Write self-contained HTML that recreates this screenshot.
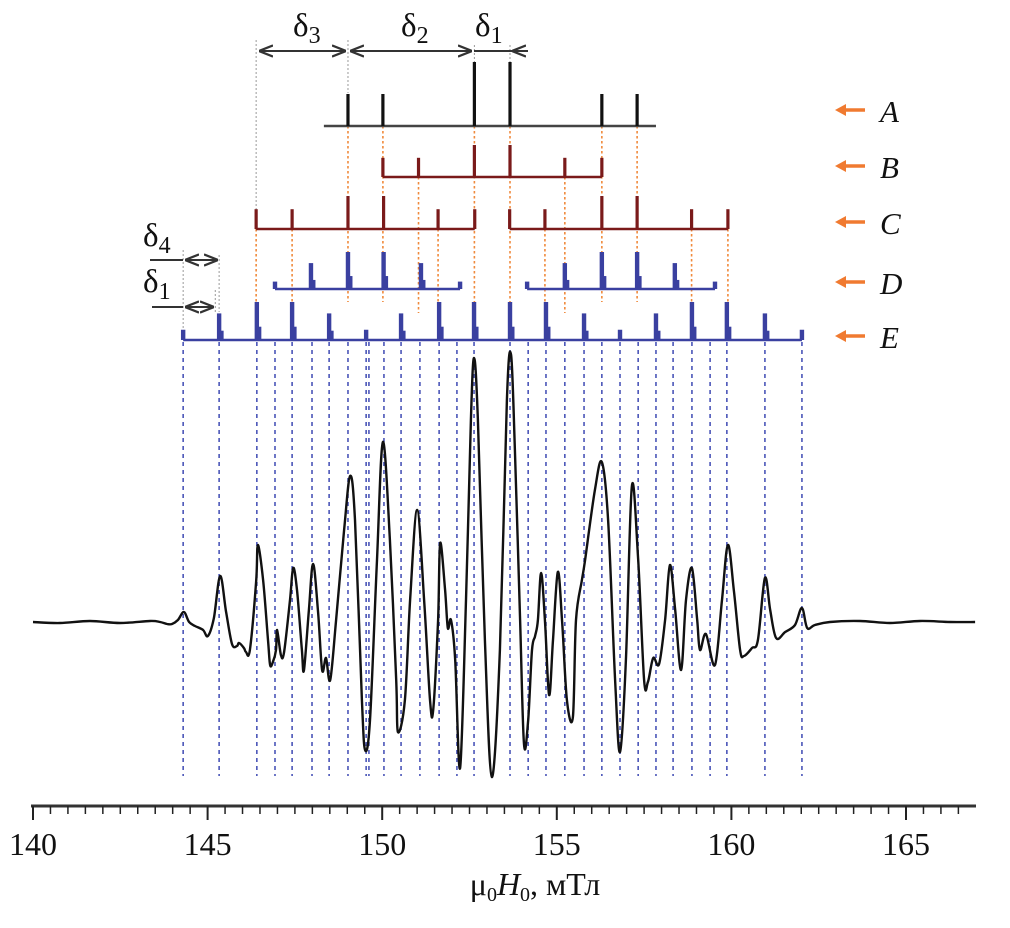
<!DOCTYPE html>
<html><head><meta charset="utf-8">
<style>
html,body{margin:0;padding:0;background:#fff;}
svg{display:block;}
text{font-family:"Liberation Serif",serif;fill:#111;}
</style></head>
<body>
<svg id="chart" width="1010" height="928" viewBox="0 0 1010 928" xmlns="http://www.w3.org/2000/svg">
<defs>
<marker id="ah" viewBox="0 0 10 10" refX="10" refY="5" markerWidth="7" markerHeight="7" orient="auto-start-reverse"><path d="M0,1 L10,5 L0,9" fill="none" stroke="#333" stroke-width="1.6"/></marker>
</defs>
<g id="guides"></g>
<g id="sticks"></g>
<path id="spectrum" fill="none" stroke="#111" stroke-width="2.4" stroke-linejoin="round"/>
<g id="axis"></g>
<g id="annot"></g>
</svg>
<script>
// ---- data ----
const fieldMin = 140, fieldMax = 165;
const tickLabels = [140,145,150,155,160,165];
const specField = [
140.00,140.77,141.63,142.49,143.35,143.64,143.84,143.98,144.15,144.32,
144.47,144.64,144.87,145.01,145.18,145.36,145.53,145.70,145.84,145.90,
146.04,146.10,146.21,146.39,146.44,146.59,146.73,146.79,146.87,146.96,
146.99,147.10,147.19,147.36,147.45,147.56,147.70,147.76,147.90,148.02,
148.16,148.28,148.39,148.51,148.68,148.91,149.08,149.22,149.42,149.51,
149.65,149.85,150.02,150.22,150.40,150.45,150.65,150.80,151.00,151.20,
151.37,151.46,151.60,151.66,151.80,151.88,151.97,152.09,152.23,152.40,
152.54,152.63,152.74,152.94,153.14,153.37,153.57,153.69,153.80,153.95,
154.06,154.18,154.29,154.38,154.46,154.55,154.66,154.78,154.89,155.03,
155.15,155.29,155.46,155.55,155.72,155.81,156.09,156.29,156.47,156.67,
156.81,156.98,157.15,157.33,157.50,157.61,157.76,157.93,158.10,158.24,
158.39,158.56,158.70,158.87,159.02,159.10,159.27,159.53,159.73,159.90,
160.07,160.25,160.36,160.59,160.76,160.96,161.11,161.28,161.54,161.82,
162.02,162.17,162.39,162.82,163.68,164.54,165.40,166.26,166.98];
const specIntensity = [
0,-1,1,-1,1,0,-2,-2,2,10,
0,-4,-8,-14,4,46,10,-22,-24,-21,
-26,-30,-28,40,77,42,-18,-43,-40,-28,
-8,-33,-30,22,54,32,-28,-48,12,58,
12,-48,-36,-58,2,92,146,102,-78,-128,
-98,62,180,82,-58,-110,-78,22,112,22,
-78,-88,2,79,32,-6,2,-38,-146,22,
202,264,202,-18,-155,-28,222,267,172,2,
-122,-98,-28,-14,2,49,2,-73,-18,50,
2,-78,-95,2,42,62,132,160,102,-58,
-130,-38,136,62,-58,-60,-36,-42,2,57,
12,-48,22,54,2,-28,-12,-43,22,77,
32,-28,-34,-26,-18,44,12,-16,-10,-3,
14,-6,-3,0,1,-1,1,0,0];
// stick spectra: positions (mT) and relative heights
const rowA = {name:'A', y:126, color:'#111', base:[[148.33,157.84]],
  pos:[149.02,150.02,152.64,153.66,156.29,157.30], h:[1,1,2,2,1,1]};
const rowB = {name:'B', y:177, color:'#7a1a1a', base:[[150.02,156.29]],
  pos:[150.02,151.04,152.64,153.66,155.23,156.29], h:[0.6,0.6,1,1,0.6,0.6]};
const rowC = {name:'C', y:229, color:'#7a1a1a', base:[[146.39,152.65],[153.65,159.90]],
  pos:[146.39,147.42,149.02,150.04,151.60,152.65,153.65,154.66,156.29,157.30,158.86,159.90],
  h:[0.6,0.6,1,1,0.6,0.6,0.6,0.6,1,1,0.6,0.6]};
const rowD = {name:'D', y:289, color:'#3a40a0', base:[[146.93,152.23],[154.15,159.53]],
  pos:[146.93,147.96,149.02,150.04,151.11,152.23,154.15,155.23,156.29,157.30,158.38,159.53],
  h:[0.2,0.7,1,1,0.7,0.2,0.2,0.7,1,1,0.7,0.2]};
const rowE = {name:'E', y:340, color:'#3a40a0', base:[[144.30,162.02]],
  pos:[144.30,145.33,146.41,147.42,148.48,149.54,150.54,151.63,152.63,153.66,154.69,155.78,156.81,157.84,158.87,159.87,160.96,162.02],
  h:[0.27,0.7,1,1,0.7,0.27,0.7,1,1,1,1,0.7,0.27,0.7,1,1,0.7,0.27]};
const blueLines = [144.30,145.33,146.41,146.93,147.42,147.99,148.48,149.02,149.54,149.62,150.05,150.54,151.08,151.63,152.14,152.63,153.66,154.18,154.69,155.23,155.78,156.29,156.81,157.33,157.84,158.33,158.87,159.39,159.87,160.96,162.02];
const orangeLines = [[149.02,126,302],[150.02,126,302],[152.64,126,302],[153.66,126,302],[156.29,126,302],[157.30,126,302],
  [151.04,177,313],[155.23,177,313],[146.39,229,302],[147.42,229,302],[151.60,229,302],[154.66,229,302],[158.86,229,302],[159.90,229,302]];

// ---- scales ----
const X0 = 33, X1 = 906;
function fx(v){ return X0 + (v - fieldMin) * (X1 - X0) / (fieldMax - fieldMin); }
const BASE_Y = 622;
function fy(v){ return BASE_Y - v; }
const NS = 'http://www.w3.org/2000/svg';
function mk(tag, attrs, parent){
  const e = document.createElementNS(NS, tag);
  for (const k in attrs) e.setAttribute(k, attrs[k]);
  parent.appendChild(e); return e;
}
const guides = document.getElementById('guides');
const sticks = document.getElementById('sticks');
const axis = document.getElementById('axis');

blueLines.forEach(v => {
  const l = mk('line', {x1:fx(v), x2:fx(v), y1:342, y2:776, stroke:'#4a55b8', 'stroke-width':1.6, 'stroke-dasharray':'4 4'}, guides);
  
  
});
orangeLines.forEach(o => {
  const l = mk('line', {x1:fx(o[0]), x2:fx(o[0]), y1:o[1], y2:o[2], stroke:'#f08a3c', 'stroke-width':1.6, 'stroke-dasharray':'2.5 2.5'}, guides);
  
  
});
[[146.39,40,229],[149.02,40,93],[152.64,45,62],[153.66,45,62],[144.30,250,330],[145.33,255,312],[145.22,290,312]].forEach(g => {
  const l = mk('line', {x1:fx(g[0]), x2:fx(g[0]), y1:g[1], y2:g[2], stroke:'#999', 'stroke-width':1, 'stroke-dasharray':'2 2'}, guides);
  
  
});

const unitH = {A:32, B:32, C:33, D:37, E:38};
[rowA,rowB,rowC,rowD,rowE].forEach(r => {
  const g = mk('g', {}, sticks);
  
  
  r.base.forEach(b => {
    mk('line', {x1:fx(b[0]), x2:fx(b[1]), y1:r.y, y2:r.y, stroke: r.name==='A' ? '#444' : r.color, 'stroke-width':2.6}, g);
  });
  const blob = (r.name === 'D' || r.name === 'E');
  r.pos.forEach((p,i) => {
    const h = r.h[i] * unitH[r.name];
    const x = fx(p);
    const s = mk('rect', {x: x - (blob ? 2.2 : 1.6), y: r.y - h, width: blob ? 4.4 : 3.2, height: h, fill: r.color}, g);
    
    
    if (blob && h > 12) {
      const sh = mk('rect', {x: x + 1.5, y: r.y - h*0.35, width: 3, height: h*0.35, fill: r.color}, g);
      
      
    }
  });
});

(function(){
  const pts = specField.map((f,i) => [fx(f), fy(specIntensity[i])]);
  let d = 'M' + pts[0][0].toFixed(1) + ',' + pts[0][1].toFixed(1);
  for (let i = 0; i < pts.length - 1; i++) {
    const p0 = pts[Math.max(0,i-1)], p1 = pts[i], p2 = pts[i+1], p3 = pts[Math.min(pts.length-1,i+2)];
    const c1x = p1[0] + (p2[0]-p0[0])/6, c1y = p1[1] + (p2[1]-p0[1])/6;
    const c2x = p2[0] - (p3[0]-p1[0])/6, c2y = p2[1] - (p3[1]-p1[1])/6;
    d += ' C' + c1x.toFixed(1)+','+c1y.toFixed(1)+' '+c2x.toFixed(1)+','+c2y.toFixed(1)+' '+p2[0].toFixed(1)+','+p2[1].toFixed(1);
  }
  document.getElementById('spectrum').setAttribute('d', d);
})();

const AY = 806;
const al = mk('line', {x1:31, x2:976, y1:AY, y2:AY, stroke:'#333', 'stroke-width':3}, axis);


for (let k = 0; k <= 53; k++) {
  const v = fieldMin + k * 0.5;
  const major = (k % 10 === 0);
  const t = mk('line', {x1:fx(v), x2:fx(v), y1:AY, y2:AY + (major ? 14 : 8), stroke:'#222', 'stroke-width': major ? 2 : 1.5}, axis);
  
  
}
tickLabels.forEach(v => {
  const t = mk('text', {x:fx(v), y:855, 'font-size':32, 'text-anchor':'middle'}, axis);
  t.textContent = v;
  
  
});
</script>
<script>
(function(){
  const svg = document.getElementById('annot');
  const NS='http://www.w3.org/2000/svg';
  svg.insertAdjacentHTML('beforeend', `
  <text x="535" y="895" font-size="32" text-anchor="middle">μ<tspan font-size="20" dy="6">0</tspan><tspan dy="-6" font-style="italic">H</tspan><tspan font-size="20" dy="6">0</tspan><tspan dy="-6">, мТл</tspan></text>
  <g stroke="#333" stroke-width="2" fill="none">
    <line x1="259" y1="51" x2="346" y2="51" marker-start="url(#ah)" marker-end="url(#ah)"/>
    <line x1="350" y1="51" x2="472" y2="51" marker-start="url(#ah)" marker-end="url(#ah)"/>
    <line x1="474" y1="51" x2="528" y2="51"/>
    <line x1="528" y1="51" x2="512" y2="51" marker-end="url(#ah)"/>
    <line x1="150" y1="260" x2="183" y2="260"/>
    <line x1="185" y1="260" x2="218" y2="260" marker-start="url(#ah)" marker-end="url(#ah)"/>
    <line x1="152" y1="307" x2="183" y2="307"/>
    <line x1="185" y1="307" x2="214" y2="307" marker-start="url(#ah)" marker-end="url(#ah)"/>
  </g>
  <text x="293" y="36" font-size="33">δ<tspan font-size="24" dy="7">3</tspan></text>
  <text x="401" y="36" font-size="33">δ<tspan font-size="24" dy="7">2</tspan></text>
  <text x="475" y="36" font-size="33">δ<tspan font-size="24" dy="7">1</tspan></text>
  <text x="143" y="246" font-size="33">δ<tspan font-size="24" dy="7">4</tspan></text>
  <text x="143" y="292" font-size="33">δ<tspan font-size="24" dy="7">1</tspan></text>
  `);
  const legendY = [110,166,222,282,336];
  const names = ['A','B','C','D','E'];
  names.forEach((n,i) => {
    const g = document.createElementNS(NS,'g');
    
    
    const y = legendY[i];
    g.innerHTML = `<line x1="842" y1="${y}" x2="865" y2="${y}" stroke="#f07a30" stroke-width="3.5"/>
      <path d="M835,${y} L846,${y-6} L846,${y+6} Z" fill="#f07a30"/>
      <text x="880" y="${y+12}" font-size="31" font-style="italic">${n}</text>`;
    svg.appendChild(g);
  });
})();
</script>
</body></html>
